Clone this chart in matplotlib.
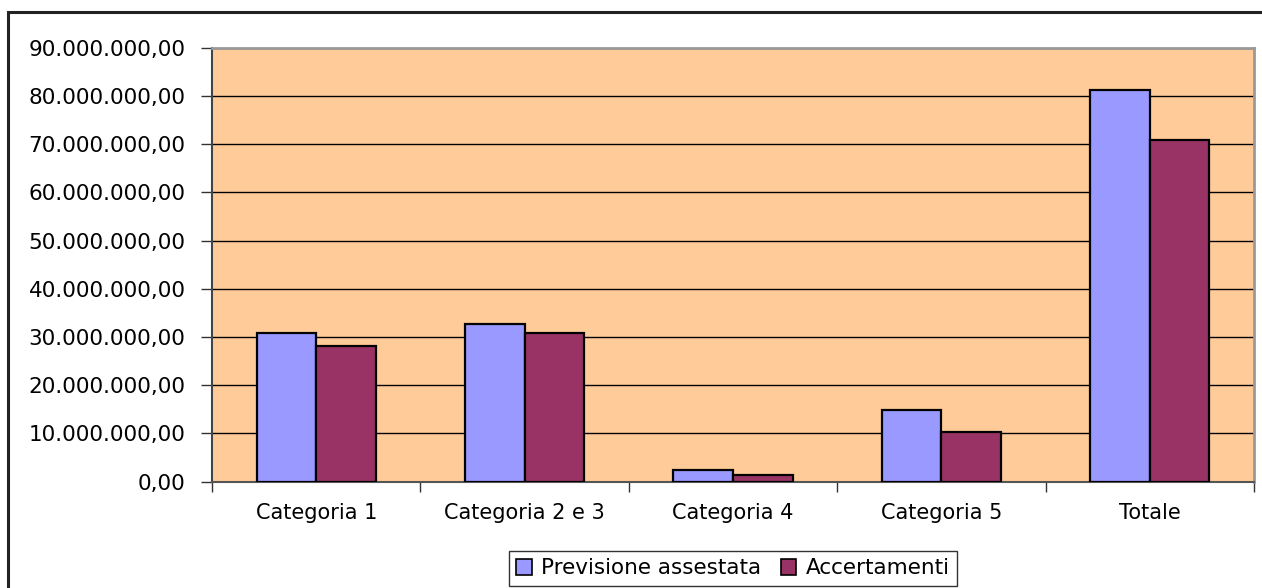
import matplotlib
matplotlib.use("Agg")
import matplotlib.pyplot as plt
import matplotlib.patches as mpatches
from matplotlib.ticker import FuncFormatter, FixedLocator
import numpy as np

categories = ["Categoria 1", "Categoria 2 e 3", "Categoria 4", "Categoria 5", "Totale"]
previsione = [30.9e6, 32.7e6, 2.4e6, 14.9e6, 81.3e6]
accertamenti = [28.1e6, 30.9e6, 1.4e6, 10.4e6, 70.9e6]
series_names = ["Previsione assestata", "Accertamenti"]
yticks = [0, 10e6, 20e6, 30e6, 40e6, 50e6, 60e6, 70e6, 80e6, 90e6]

plt.rcParams['font.family'] = ['DejaVu Sans']
W, H = 1262, 588
fig = plt.figure(figsize=(W / 100, H / 100), dpi=100)
fig.patch.set_facecolor('white')

ax = fig.add_axes([212 / W, 1 - 481.7 / H, (1254 - 212) / W, (481.7 - 47.7) / H])
ax.set_facecolor('#FFCC99')

x = np.arange(len(categories))
bw = 1 / 3.5
ax.bar(x - bw / 2, previsione, bw, color='#9999FF', edgecolor='black', linewidth=1.6,
       label=series_names[0], zorder=3)
ax.bar(x + bw / 2, accertamenti, bw, color='#993366', edgecolor='black', linewidth=1.6,
       label=series_names[1], zorder=3)

ax.set_xlim(-0.5, len(categories) - 0.5)
ax.set_ylim(0, 90e6)

def it_fmt(v, pos):
    s = f"{v:,.2f}"
    return s.replace(',', 'X').replace('.', ',').replace('X', '.')

ax.yaxis.set_major_locator(FixedLocator(yticks))
ax.yaxis.set_major_formatter(FuncFormatter(it_fmt))
ax.yaxis.grid(True, color='black', linewidth=1.0, zorder=1)
ax.set_axisbelow(True)

ax.xaxis.set_major_locator(FixedLocator(np.arange(len(categories) + 1) - 0.5))
ax.xaxis.set_major_formatter(FuncFormatter(lambda v, p: ""))
ax.set_xticks(x, minor=True)
ax.set_xticklabels(categories, minor=True)
ax.tick_params(axis='x', which='minor', length=0, pad=15, labelsize=15)
ax.tick_params(axis='x', which='major', length=7, width=1, color='#333333', direction='out')
ax.tick_params(axis='y', length=8, width=1, color='#333333', direction='out', pad=11, labelsize=15.5)

for s in ['top', 'right']:
    ax.spines[s].set_color('#999999')
    ax.spines[s].set_linewidth(2)
ax.spines['left'].set_color('#444444')
ax.spines['left'].set_linewidth(1.5)
ax.spines['bottom'].set_color('#555555')
ax.spines['bottom'].set_linewidth(1.5)

leg = fig.legend(loc='center', bbox_to_anchor=(733 / W, 1 - 568.5 / H), ncol=2,
                 frameon=True, fancybox=False, shadow=False, fontsize=15.5,
                 handlelength=0.7, handleheight=0.7, handletextpad=0.45,
                 columnspacing=0.9, borderpad=0.35, borderaxespad=0, edgecolor='black')
leg.get_frame().set_linewidth(1.0)
for h in leg.legend_handles:
    h.set_linewidth(1.2)

border = mpatches.Rectangle((8 / W, -0.1), 1.2, 1 - 12 / H + 0.1, transform=fig.transFigure,
                            fill=False, edgecolor='#222222', linewidth=2.2)
fig.patches.append(border)

fig.savefig('out.png', dpi=100)
